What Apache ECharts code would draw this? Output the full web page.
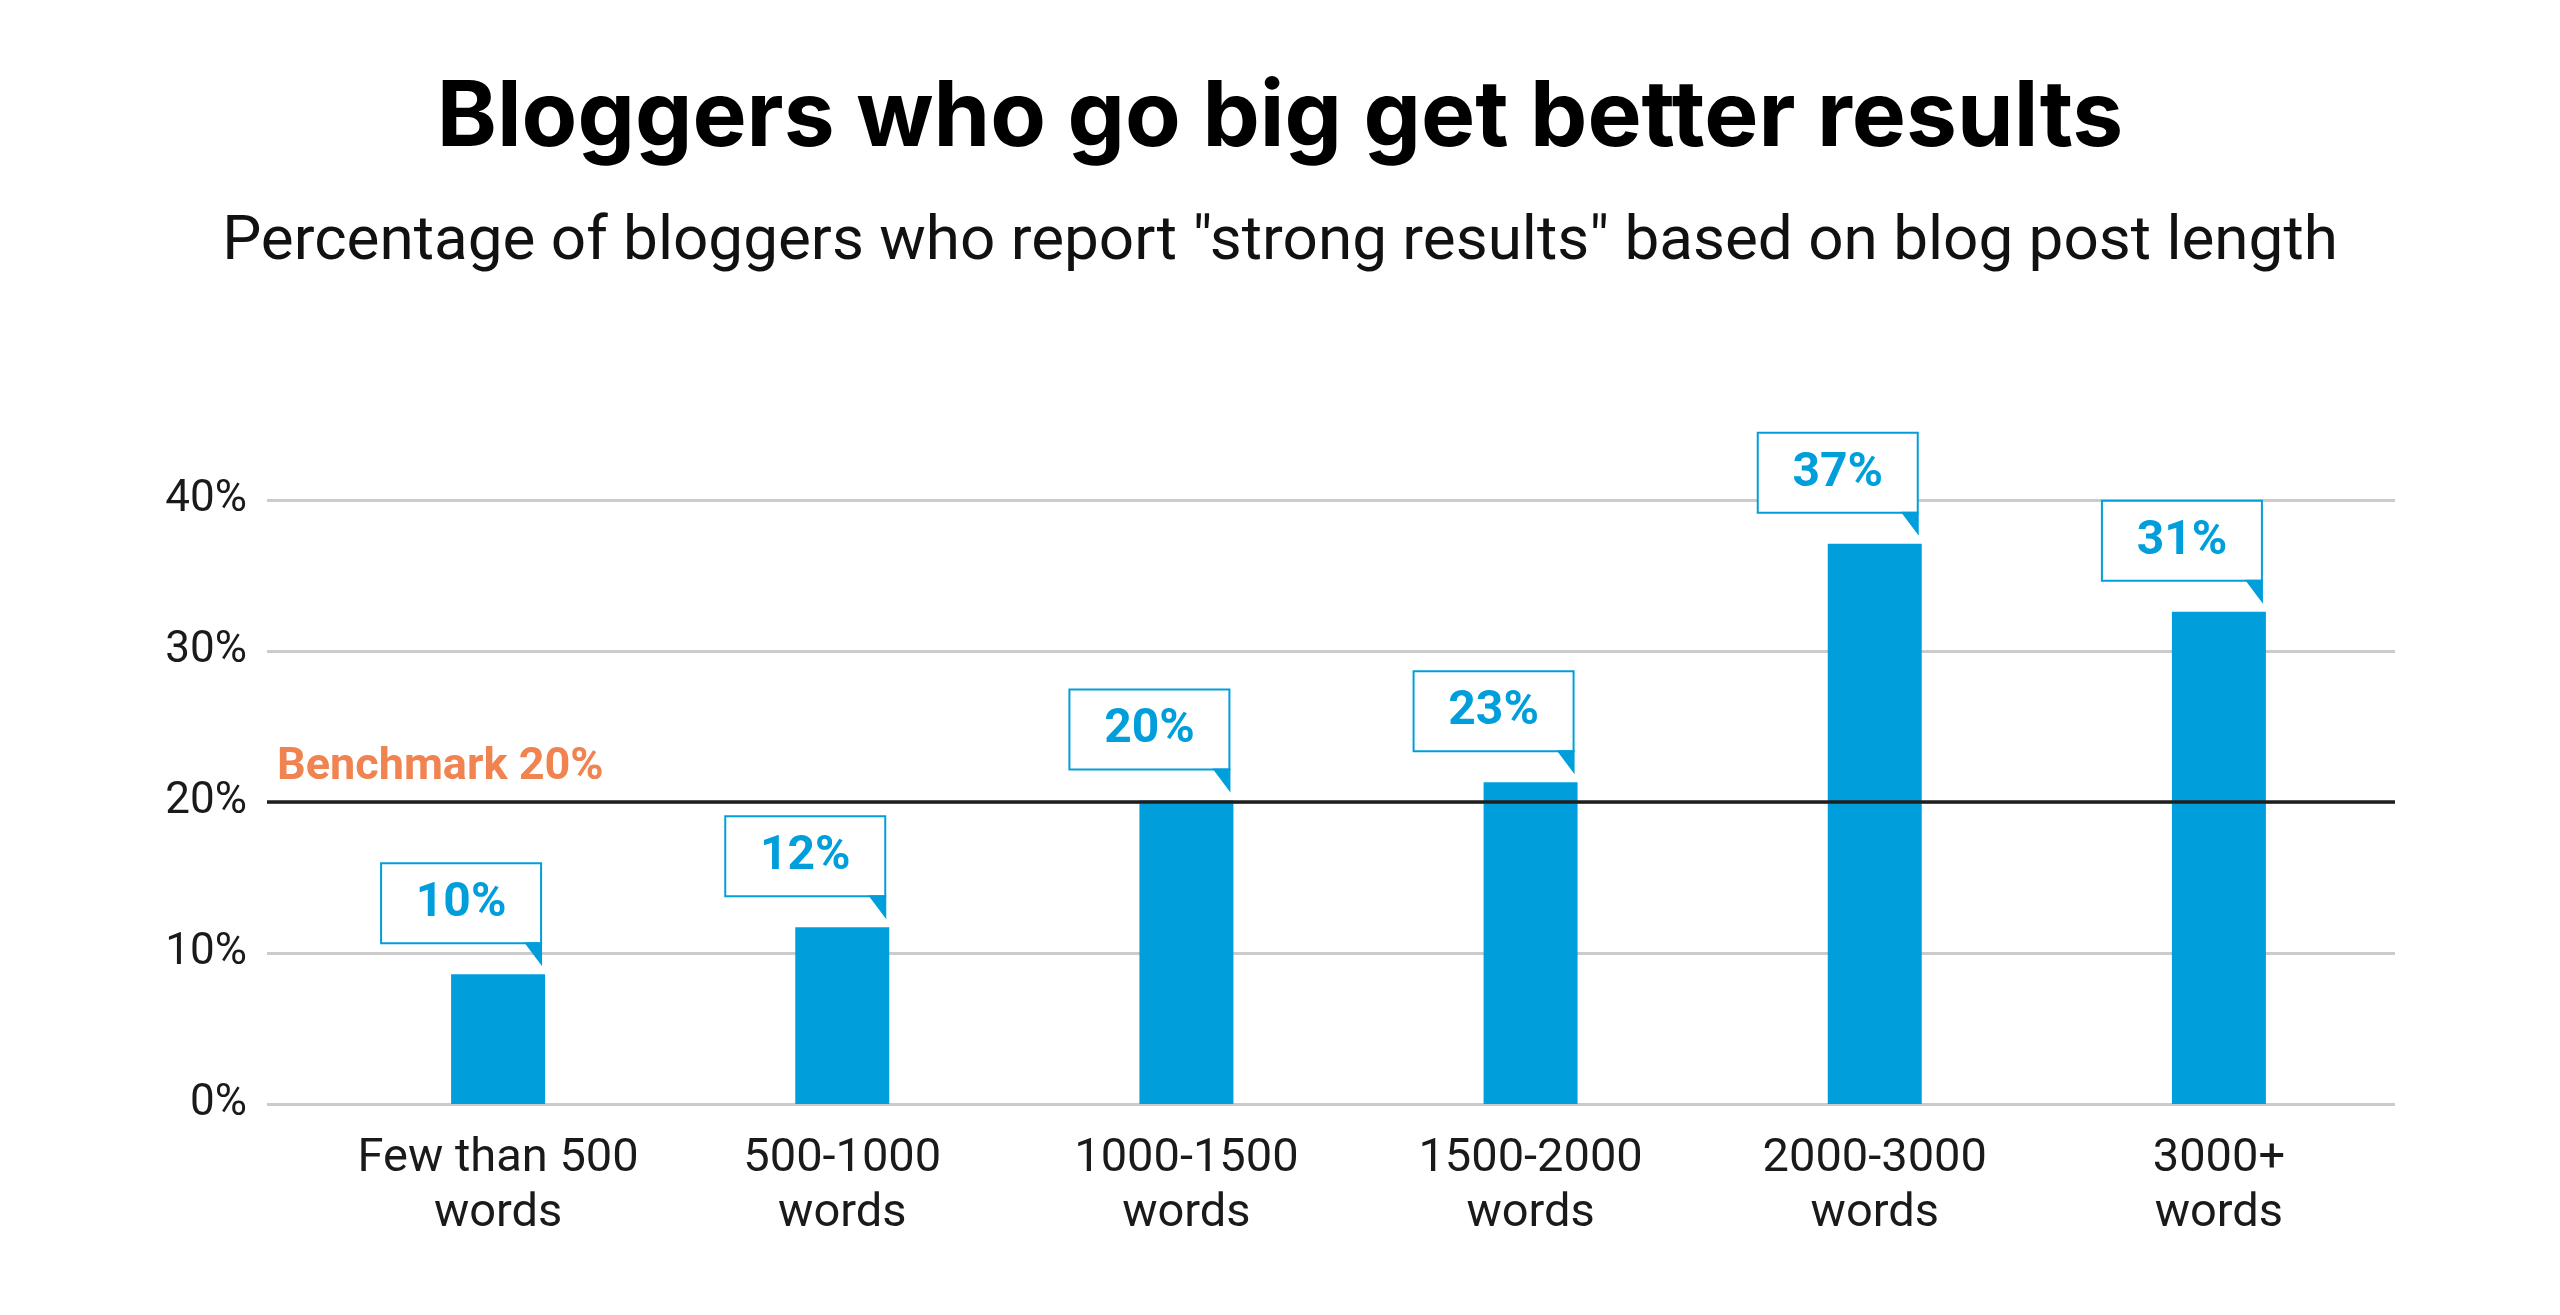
<!DOCTYPE html>
<html>
<head>
<meta charset="utf-8">
<script src="https://cdn.jsdelivr.net/npm/echarts@6/dist/echarts.min.js"></script>
<style>
  html, body { margin: 0; padding: 0; background: #ffffff; }
  #chart { width: 2560px; height: 1315px; }
</style>
</head>
<body>
<div id="chart"></div>
<script>
// ---- data ----
const categories = ['Few than 500\nwords', '500-1000\nwords', '1000-1500\nwords', '1500-2000\nwords', '2000-3000\nwords', '3000+\nwords'];
const barValues = [8.6, 11.7, 20.1, 21.3, 37.1, 32.6];     // drawn bar heights (%)
const calloutLabels = [10, 12, 20, 23, 37, 31];             // values written in the callouts (%)
const yTicks = [0, 10, 20, 30, 40];
const benchmarkValue = 20;
const benchmarkLabel = 'Benchmark 20%';
const titleText = 'Bloggers who go big get better results';
const subtitleText = 'Percentage of bloggers who report "strong results" based on blog post length';

// ---- styles ----
const BLUE = '#009FDB';
const ORANGE = '#F08350';
const BAR_W = 94;

const chart = echarts.init(document.getElementById('chart'), null, { renderer: 'canvas' });

const calloutData = barValues.map((v, i) => [i, v, calloutLabels[i]]);

const option = {
  backgroundColor: '#ffffff',
  animation: false,
  title: [
    {
      text: titleText,
      left: 'center',
      top: 68,
      textStyle: { fontFamily: 'Inter', fontWeight: 'bold', fontSize: 91, color: '#000000' }
    },
    {
      text: subtitleText,
      left: 'center',
      top: 207,
      textStyle: { fontFamily: 'Roboto', fontWeight: 'normal', fontSize: 62, color: '#111111' }
    }
  ],
  grid: [
    { left: 267, right: 165, top: 500, bottom: 211, containLabel: false },
    { left: 326, right: 169, top: 500, bottom: 211, containLabel: false }
  ],
  xAxis: [
    {
      gridIndex: 0, type: 'category', data: [''],
      axisLine: { show: false }, axisTick: { show: false }, axisLabel: { show: false }, splitLine: { show: false }
    },
    {
      gridIndex: 1, type: 'category', data: categories,
      axisLine: { show: false }, axisTick: { show: false }, splitLine: { show: false },
      axisLabel: {
        interval: 0, margin: 28,
        fontFamily: 'Roboto', fontSize: 47, lineHeight: 55, color: '#1a1a1a'
      }
    }
  ],
  yAxis: [
    {
      gridIndex: 0, type: 'value', min: 0, max: 40, interval: 10,
      axisLine: { show: false }, axisTick: { show: false },
      axisLabel: {
        margin: 20, fontFamily: 'Roboto', fontSize: 44, color: '#1a1a1a',
        formatter: v => yTicks.includes(v) ? v + '%' : ''
      },
      splitLine: { show: true, lineStyle: { color: '#CBCBCB', width: 3 } }
    },
    {
      gridIndex: 1, type: 'value', min: 0, max: 40, interval: 10,
      axisLine: { show: false }, axisTick: { show: false }, axisLabel: { show: false }, splitLine: { show: false }
    }
  ],
  series: [
    {
      type: 'line', xAxisIndex: 0, yAxisIndex: 0, data: [],
      markLine: {
        silent: true, symbol: ['none', 'none'],
        lineStyle: { color: '#1f1f1f', width: 3.5, type: 'solid' },
        label: {
          show: true, position: 'insideStartTop', formatter: benchmarkLabel,
          color: ORANGE, fontFamily: 'Roboto', fontWeight: 'bold', fontSize: 45,
          distance: [10, 12]
        },
        data: [{ yAxis: benchmarkValue }]
      }
    },
    {
      type: 'bar', xAxisIndex: 1, yAxisIndex: 1,
      data: barValues, barWidth: BAR_W,
      itemStyle: { color: BLUE },
      z: 3
    },
    {
      type: 'custom', xAxisIndex: 1, yAxisIndex: 1,
      data: calloutData, z: 10,
      renderItem: function (params, api) {
        const p = api.coord([api.value(0), api.value(1)]);
        const boxRight = p[0] + BAR_W / 2 - 4;
        const boxW = 160, boxH = 80;
        const boxBottom = p[1] - 31;
        const boxTop = boxBottom - boxH;
        const boxLeft = boxRight - boxW;
        return {
          type: 'group',
          children: [
            {
              type: 'rect',
              shape: { x: boxLeft, y: boxTop, width: boxW, height: boxH },
              style: { fill: '#ffffff', stroke: BLUE, lineWidth: 2 }
            },
            {
              type: 'polygon',
              shape: { points: [[boxRight - 17, boxBottom - 1], [boxRight + 1, boxBottom - 1], [boxRight + 1, boxBottom + 23]] },
              style: { fill: BLUE }
            },
            {
              type: 'text',
              style: {
                text: api.value(2) + '%',
                x: boxLeft + boxW / 2, y: boxTop + boxH / 2 + 1,
                align: 'center', verticalAlign: 'middle',
                fill: BLUE, fontFamily: 'Roboto', fontWeight: 'bold', fontSize: 48
              }
            }
          ]
        };
      }
    }
  ]
};

chart.setOption(option);
</script>
</body>
</html>
